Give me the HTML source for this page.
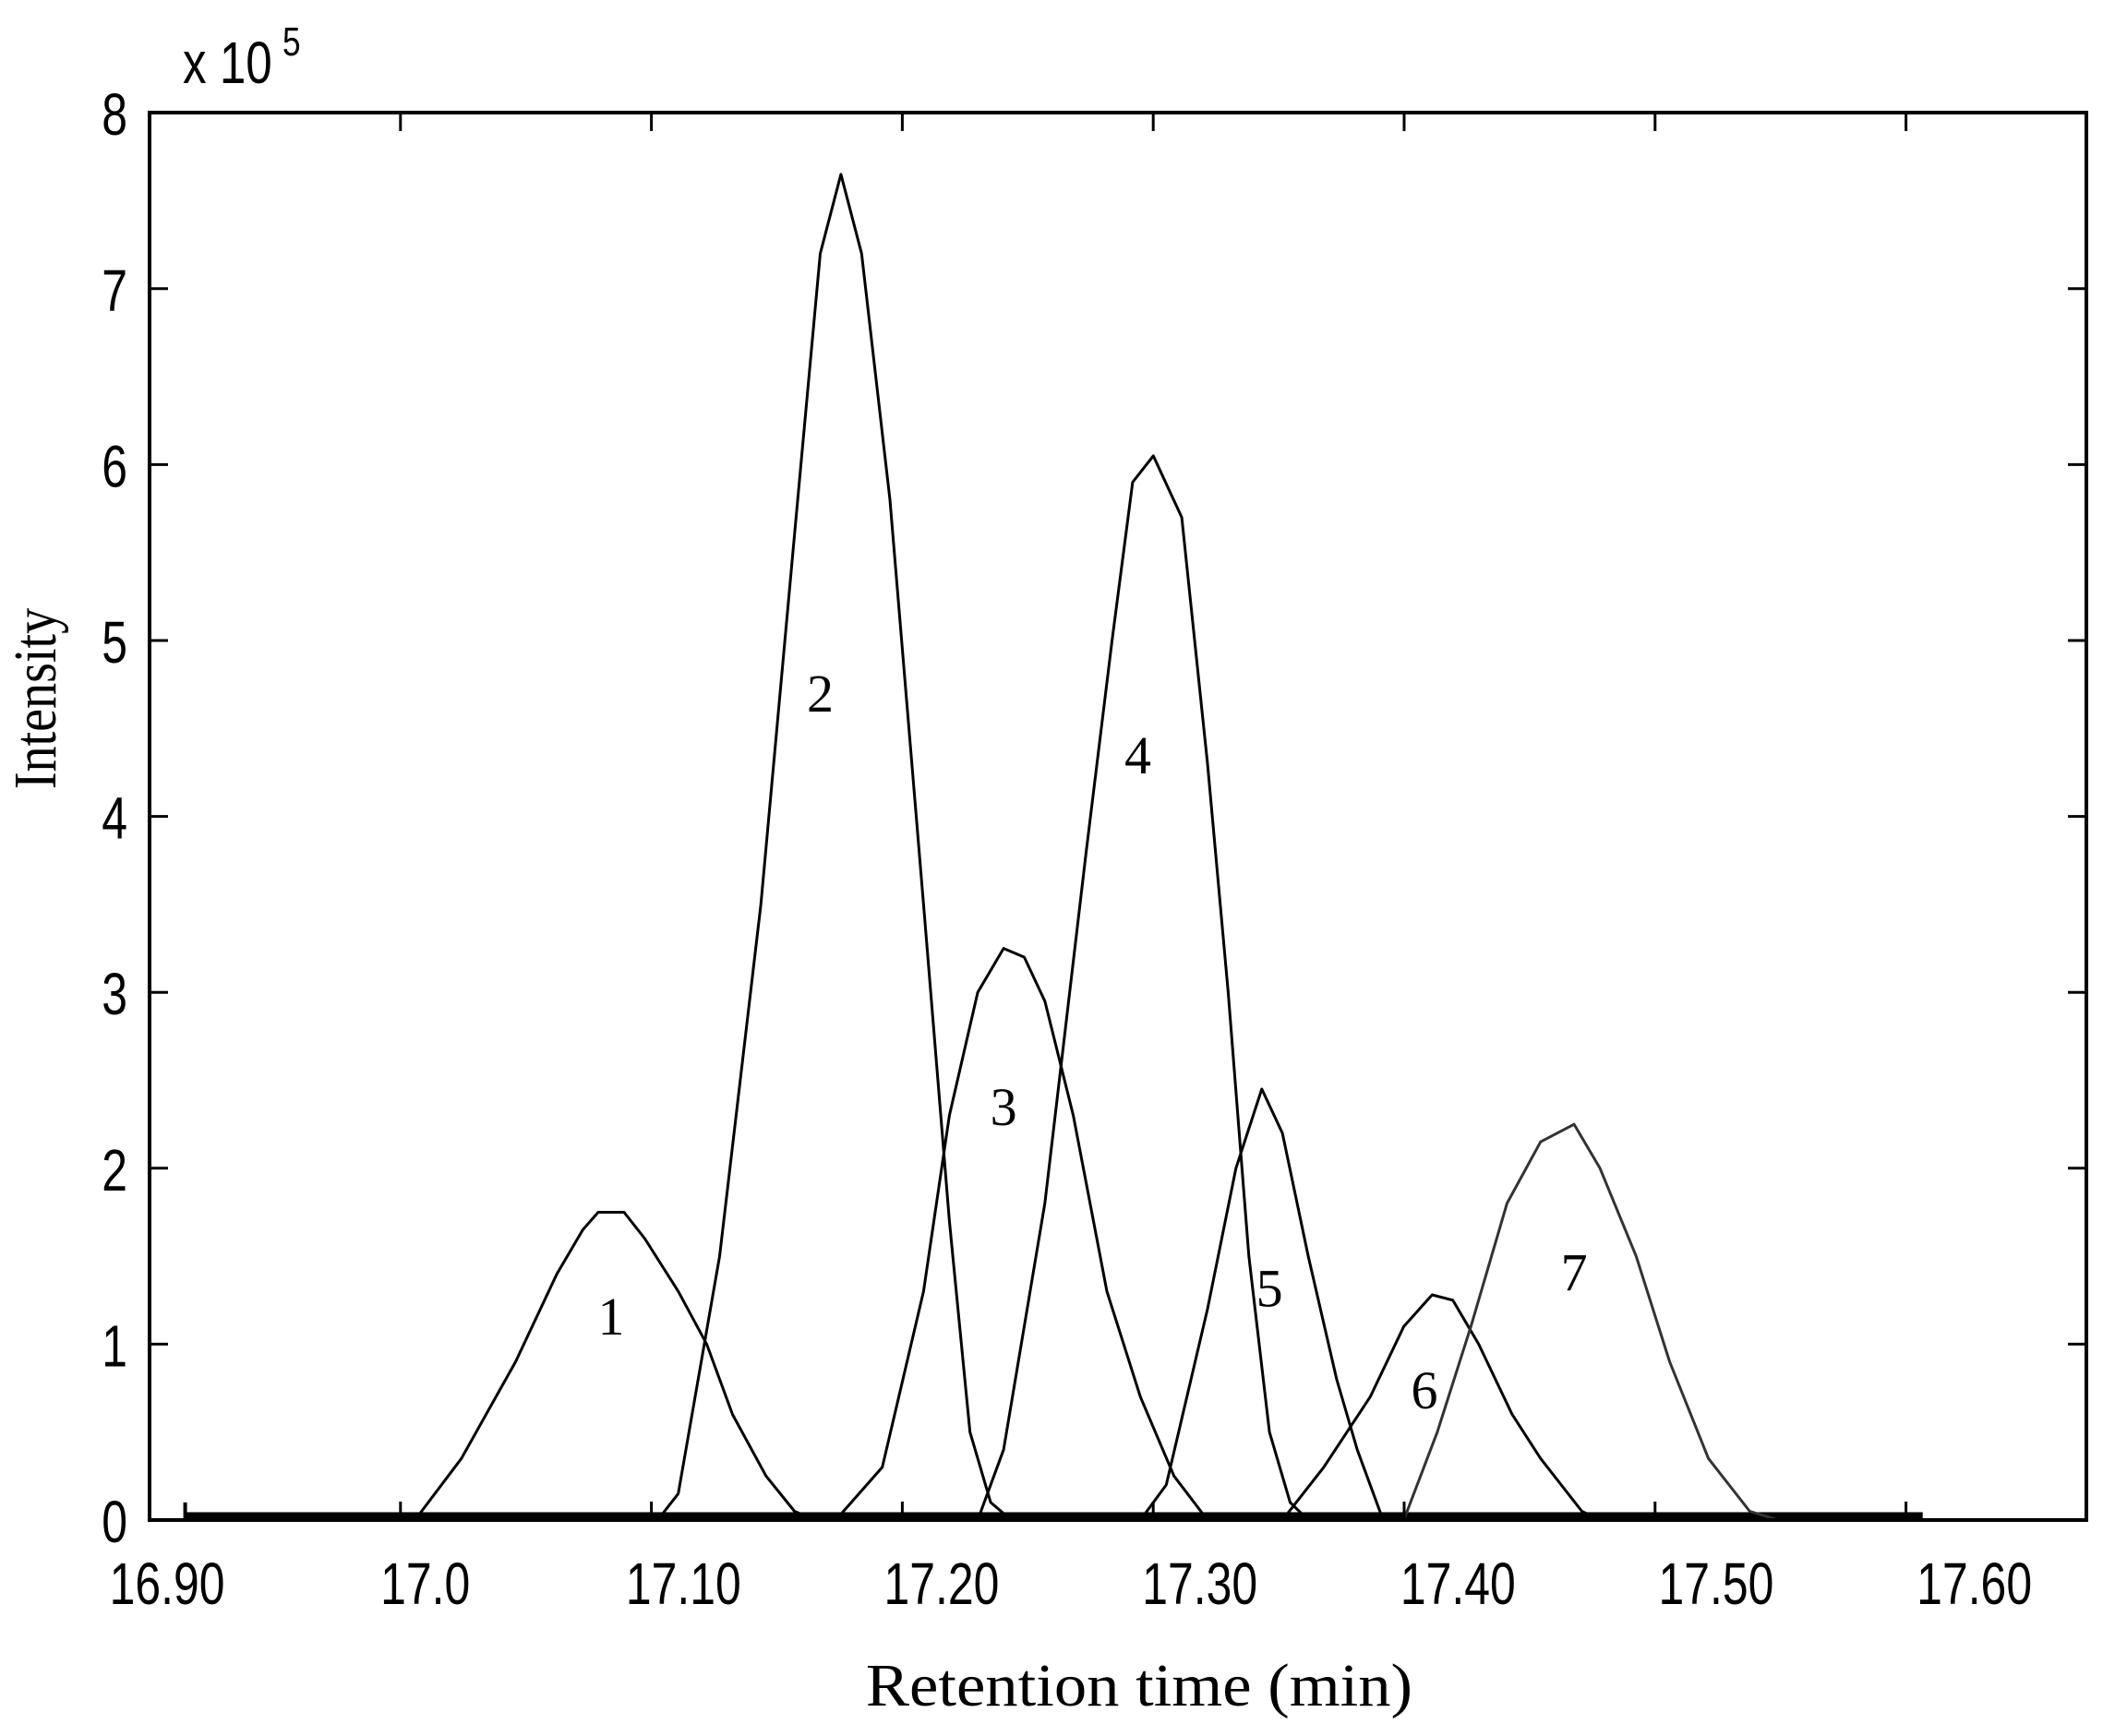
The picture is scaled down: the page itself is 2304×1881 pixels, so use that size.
<!DOCTYPE html>
<html><head><meta charset="utf-8"><style>
html,body{margin:0;padding:0;background:#fff;}
svg{display:block;}
.tick{font-family:"Liberation Sans",sans-serif;font-size:64px;fill:#000;}
.ttl{font-family:"Liberation Serif",serif;font-size:66px;fill:#000;}
.lbl{font-family:"Liberation Serif",serif;font-size:58px;fill:#000;}
</style></head><body>
<svg id="chart" width="2304" height="1881" viewBox="0 0 2304 1881">
<rect x="0" y="0" width="2304" height="1881" fill="#fff"/>
<g id="plot"></g>
<text class="ttl" transform="translate(1234,1848) scale(1.07,1)" text-anchor="middle">Retention time (min)</text>
<text class="ttl" transform="translate(60,757) rotate(-90) scale(0.85,1)" text-anchor="middle">Intensity</text>
<text class="tick" transform="translate(198,90) scale(0.8,1)">x 10<tspan dx="14" dy="-30" font-size="44">5</tspan></text>
</svg>
<script>
const xTickLabels=["16.90","17.0","17.10","17.20","17.30","17.40","17.50","17.60"];
const xTickLabelValues=[16.90,17.00,17.10,17.20,17.30,17.40,17.50,17.60];
const yTickValues=[0,1,2,3,4,5,6,7,8];
const peak1T=[16.996,17.014,17.035,17.051,17.061,17.067,17.077,17.085,17.098,17.109,17.119,17.132,17.143,17.151];
const peak1Y=[0,0.35,0.9,1.4,1.65,1.75,1.75,1.6,1.3,1.0,0.6,0.25,0.05,0];
const peak2T=[17.090,17.098,17.114,17.130,17.143,17.153,17.161,17.169,17.180,17.193,17.203,17.211,17.219,17.227];
const peak2Y=[0,0.15,1.5,3.5,5.6,7.2,7.65,7.2,5.8,3.5,1.7,0.5,0.1,0];
const peak3T=[17.159,17.177,17.193,17.203,17.214,17.224,17.232,17.240,17.251,17.264,17.277,17.290,17.303];
const peak3Y=[0,0.3,1.3,2.3,3.0,3.25,3.2,2.95,2.3,1.3,0.7,0.25,0];
const peak4T=[17.214,17.224,17.240,17.256,17.266,17.274,17.282,17.293,17.303,17.311,17.319,17.327,17.335,17.342];
const peak4Y=[0,0.4,1.8,3.8,5.0,5.9,6.05,5.7,4.3,3.0,1.5,0.5,0.1,0];
const peak5T=[17.277,17.287,17.303,17.314,17.324,17.332,17.342,17.353,17.361,17.371];
const peak5Y=[0,0.2,1.2,2.0,2.45,2.2,1.5,0.8,0.4,0];
const peak6T=[17.332,17.348,17.366,17.379,17.390,17.398,17.408,17.421,17.432,17.448,17.455];
const peak6Y=[0,0.3,0.7,1.1,1.28,1.25,1.0,0.6,0.35,0.05,0];
const peak7T=[17.379,17.392,17.405,17.419,17.432,17.445,17.455,17.469,17.482,17.497,17.513,17.524];
const peak7Y=[0,0.5,1.1,1.8,2.15,2.25,2.0,1.5,0.9,0.35,0.05,0];
const peakNames=["1","2","3","4","5","6","7"];
const peakLabelT=[17.072,17.153,17.224,17.276,17.327,17.387,17.445];
const peakLabelY=[1.16,4.7,2.35,4.35,1.32,0.74,1.41];
const baselineT=[16.907,17.580];

const L=162,R=2260,T=122,B=1647;
function xScale(t){return 181+(t-16.90)*2796.6;}
function yScale(v){return B-v*190.6;}
const NS="http://www.w3.org/2000/svg";
const g=document.getElementById('plot');
function mk(tag,attrs){const e=document.createElementNS(NS,tag);for(const k in attrs)e.setAttribute(k,attrs[k]);g.appendChild(e);return e;}

let bl=mk('line',{x1:xScale(baselineT[0]),x2:xScale(baselineT[1]),y1:yScale(0)-4,y2:yScale(0)-4,stroke:'#000','stroke-width':9});


let sp=mk('line',{x1:xScale(baselineT[0]),x2:xScale(baselineT[0]),y1:yScale(0),y2:yScale(0.1),stroke:'#000','stroke-width':4});



const peaksT=[peak1T,peak2T,peak3T,peak4T,peak5T,peak6T,peak7T];
const peaksY=[peak1Y,peak2Y,peak3Y,peak4Y,peak5Y,peak6Y,peak7Y];
for(let i=0;i<peaksT.length;i++){
  const pts=peaksT[i].map((t,j)=>xScale(t).toFixed(1)+','+yScale(peaksY[i][j]).toFixed(1)).join(' ');
  const p=mk('polyline',{points:pts,fill:'none',stroke:i==6?'#333':'#000','stroke-width':3,'stroke-linejoin':'round'});
  
  
  const tx=mk('text',{x:xScale(peakLabelT[i]),y:yScale(peakLabelY[i])+20,'text-anchor':'middle',class:'lbl'});
  tx.textContent=peakNames[i];
  
  
}

let box=mk('rect',{x:L,y:T,width:R-L,height:B-T,fill:'none',stroke:'#000','stroke-width':4});



for(let k=1;k<8;k++){
  const x=L+271.8*k;
  const a=mk('line',{x1:x,x2:x,y1:B,y2:B-20,stroke:'#000','stroke-width':3});
  
  
  const b=mk('line',{x1:x,x2:x,y1:T,y2:T+20,stroke:'#000','stroke-width':3});
  
  
}
xTickLabels.forEach((s,i)=>{
  const t=mk('text',{transform:'translate('+xScale(xTickLabelValues[i])+',1738) scale(0.78,1)','text-anchor':'middle',class:'tick'});
  t.textContent=s;
  
  
});
yTickValues.forEach(v=>{
  const y=yScale(v);
  if(v>0&&v<8){
    const a=mk('line',{x1:L,x2:L+20,y1:y,y2:y,stroke:'#000','stroke-width':3});
    
    
    const b=mk('line',{x1:R,x2:R-20,y1:y,y2:y,stroke:'#000','stroke-width':3});
    
    
  }
  const t=mk('text',{transform:'translate(138,'+(y+24)+') scale(0.78,1)','text-anchor':'end',class:'tick'});
  t.textContent=v;
  
  
});
</script>
</body></html>
